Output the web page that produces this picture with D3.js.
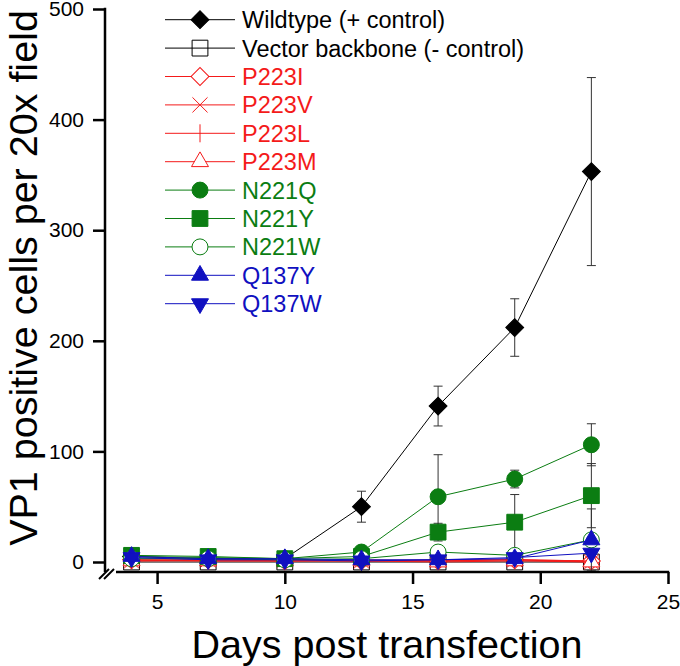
<!DOCTYPE html>
<html>
<head>
<meta charset="utf-8">
<script src="https://cdn.jsdelivr.net/npm/d3@7"></script>
<style>
  body { margin: 0; background: #fff; }
  text { font-family: "Liberation Sans", Arial, sans-serif; }
</style>
</head>
<body>
<div id="container"></div>
<script>
// days of measurement
const days = [4, 7, 10, 13, 16, 19, 22];

// series names, in legend order
const names = ['Wildtype (+ control)', 'Vector backbone (- control)', 'P223I', 'P223V',
               'P223L', 'P223M', 'N221Q', 'N221Y', 'N221W', 'Q137Y', 'Q137W'];

// mean values per series (cells per field)
const wildtype  = [5, 3, 3, 50, 141, 212, 353];
const vector    = [0, 0, 0, 0, 0, 0, 0];
const p223i     = [2, 2, 1, 1, 1, 2, 1];
const p223v     = [1, 2, 2, 1, 2, 2, 0];
const p223l     = [2, 1, 1, 2, 1, 2, 1];
const p223m     = [1, 1, 1, 1, 0, 1, 0];
const n221q     = [5, 4, 3, 9, 59, 75, 106];
const n221y     = [6, 5, 3, 5, 27, 36, 60];
const n221w     = [3, 3, 2, 3, 9, 6, 20];
const q137y     = [5, 3, 3, 2, 2, 3, 20];
const q137w     = [4, 2, 2, 1, 2, 4, 8];

// error bar half-widths
const wildtypeErr = [2, 1, 1, 14, 18, 26, 85];
const vectorErr   = [1, 1, 1, 1, 1, 1, 2];
const p223iErr    = [1, 1, 1, 1, 1, 1, 1];
const p223vErr    = [1, 1, 1, 1, 1, 1, 1];
const p223lErr    = [1, 1, 1, 1, 1, 1, 1];
const p223mErr    = [1, 1, 1, 1, 1, 1, 1];
const n221qErr    = [2, 2, 1, 3, 38, 8, 19];
const n221yErr    = [2, 2, 1, 2, 8, 25, 29];
const n221wErr    = [1, 1, 1, 1, 5, 2, 28];
const q137yErr    = [1, 1, 1, 1, 1, 1, 2];
const q137wErr    = [1, 1, 1, 1, 1, 2, 2];

const xTicks = [5, 10, 15, 20, 25];
const yTicks = [0, 100, 200, 300, 400, 500];

const BLACK = '#000', RED = '#f41a1a', GREEN = '#0b7d12', BLUE = '#1010c0';

const series = [
  { values: wildtype, err: wildtypeErr, color: BLACK, shape: 'diamond',  fill: true  },
  { values: vector,   err: vectorErr,   color: BLACK, shape: 'square',   fill: false },
  { values: p223i,    err: p223iErr,    color: RED,   shape: 'diamond',  fill: false },
  { values: p223v,    err: p223vErr,    color: RED,   shape: 'times',    fill: false },
  { values: p223l,    err: p223lErr,    color: RED,   shape: 'vbar',     fill: false },
  { values: p223m,    err: p223mErr,    color: RED,   shape: 'triangle', fill: false },
  { values: n221q,    err: n221qErr,    color: GREEN, shape: 'circle',   fill: true  },
  { values: n221y,    err: n221yErr,    color: GREEN, shape: 'square',   fill: true  },
  { values: n221w,    err: n221wErr,    color: GREEN, shape: 'circle',   fill: false },
  { values: q137y,    err: q137yErr,    color: BLUE,  shape: 'triangle', fill: true  },
  { values: q137w,    err: q137wErr,    color: BLUE,  shape: 'tridown',  fill: true  }
];
series.forEach((s, i) => s.name = names[i]);

const width = 680, height = 666;

const x = d3.scaleLinear().domain([3, 25]).range([106, 668]);
const y = d3.scaleLinear().domain([0, 500]).range([562, 9]);
const axisY = 572;

const svg = d3.select('#container').append('svg')
    .attr('width', width)
    .attr('height', height);

// marker path builder
function marker(g, shape, color, filled) {
  let p;
  if (shape === 'diamond') {
    p = g.append('path').attr('d', d3.symbol(d3.symbolSquare, 160)()).attr('transform', 'rotate(45)');
  } else if (shape === 'square') {
    p = g.append('path').attr('d', d3.symbol(d3.symbolSquare, 250)());
  } else if (shape === 'circle') {
    p = g.append('path').attr('d', d3.symbol(d3.symbolCircle, 200)());
  } else if (shape === 'triangle') {
    p = g.append('path').attr('d', d3.symbol(d3.symbolTriangle, 125)());
  } else if (shape === 'tridown') {
    p = g.append('path').attr('d', d3.symbol(d3.symbolTriangle, 125)()).attr('transform', 'rotate(180)');
  } else if (shape === 'times') {
    p = g.append('path').attr('d', d3.symbol(d3.symbolTimes, 150)());
  } else {
    p = g.append('path').attr('d', 'M0,-9V9');
  }
  p.attr('stroke', color)
   .attr('stroke-width', 1)
   .attr('fill', filled ? color : (shape === 'square' || shape === 'times' || shape === 'vbar' ? 'none' : '#fff'));
}

// error bars first, then lines, then markers, series by series
const line = d3.line().x((d, i) => x(days[i])).y(d => y(d));

series.forEach(s => {
  const g = svg.append('g');
  const eb = g.selectAll('.eb').data(s.values).enter().append('g');
  eb.append('line')
    .attr('x1', (d, i) => x(days[i])).attr('x2', (d, i) => x(days[i]))
    .attr('y1', (d, i) => y(d + s.err[i])).attr('y2', (d, i) => y(d - s.err[i]))
    .attr('stroke', '#333').attr('stroke-width', 1);
  [1, -1].forEach(sign => {
    eb.append('line')
      .attr('x1', (d, i) => x(days[i]) - 4.5).attr('x2', (d, i) => x(days[i]) + 4.5)
      .attr('y1', (d, i) => y(d + sign * s.err[i])).attr('y2', (d, i) => y(d + sign * s.err[i]))
      .attr('stroke', '#333').attr('stroke-width', 1);
  });

  g.append('path').datum(s.values)
    .attr('d', line)
    .attr('fill', 'none')
    .attr('stroke', s.color)
    .attr('stroke-width', 1);

  s.values.forEach((v, i) => {
    const m = g.append('g').attr('transform', `translate(${x(days[i])},${y(v)})`);
    marker(m, s.shape, s.color, s.fill);
  });
});

// y axis
const yAxis = svg.append('g')
    .attr('transform', 'translate(105,0)')
    .call(d3.axisLeft(y).tickValues(yTicks).tickSize(12).tickPadding(9));
yAxis.select('.domain').remove();
yAxis.selectAll('.tick line').attr('stroke-width', 2.5);
yAxis.selectAll('.tick text').attr('font-size', 21).attr('fill', '#000')
    .attr('font-family', '"Liberation Sans", Arial, sans-serif');
svg.append('line').attr('x1', 105).attr('x2', 105).attr('y1', y(500) - 1.2).attr('y2', axisY)
    .attr('stroke', '#000').attr('stroke-width', 2.5);

// x axis
const xAxis = svg.append('g')
    .attr('transform', `translate(0,${axisY})`)
    .call(d3.axisBottom(x).tickValues(xTicks).tickSize(12).tickPadding(10));
xAxis.select('.domain').remove();
xAxis.selectAll('.tick line').attr('stroke-width', 2.5);
xAxis.selectAll('.tick text').attr('font-size', 21).attr('fill', '#000')
    .attr('font-family', '"Liberation Sans", Arial, sans-serif');
svg.append('line').attr('x1', 116).attr('x2', x(25) + 1.2).attr('y1', axisY).attr('y2', axisY)
    .attr('stroke', '#000').attr('stroke-width', 2.5);

// axis break marks
[0, 5].forEach(o => {
  svg.append('line')
    .attr('x1', 99 + o).attr('y1', 579).attr('x2', 109 + o).attr('y2', 569)
    .attr('stroke', '#000').attr('stroke-width', 2);
});

// axis titles
svg.append('text')
    .attr('x', 387).attr('y', 658)
    .attr('text-anchor', 'middle')
    .attr('font-size', 39.5)
    .text('Days post transfection');

svg.append('text')
    .attr('transform', 'translate(37,278) rotate(-90)')
    .attr('text-anchor', 'middle')
    .attr('font-size', 39.5)
    .text('VP1 positive cells per 20x field');

// legend
const legend = svg.append('g');
series.forEach((s, i) => {
  const ly = 19.7 + i * 28.4;
  const row = legend.append('g').attr('transform', `translate(0,${ly})`);
  row.append('line').attr('x1', 165).attr('x2', 235).attr('y1', 0).attr('y2', 0)
    .attr('stroke', s.color).attr('stroke-width', 1);
  const m = row.append('g').attr('transform', 'translate(200,0)');
  marker(m, s.shape, s.color, s.fill);
  row.append('text')
    .attr('x', 242).attr('y', 8.4)
    .attr('font-size', 23.5)
    .attr('fill', s.color)
    .text(s.name);
});
</script>
</body>
</html>
